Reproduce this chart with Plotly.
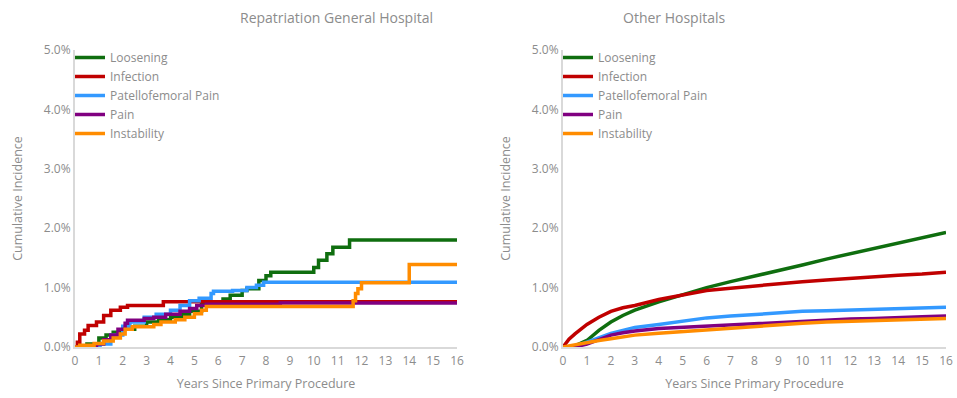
import plotly.graph_objects as go

# Series names and colours
series_names = ["Loosening", "Infection", "Patellofemoral Pain", "Pain", "Instability"]
series_colors = ["#0f6e0f", "#c00000", "#3399ff", "#800080", "#ff8c00"]

# Repatriation General Hospital: Kaplan-Meier style step curves (years, cumulative %)
rg_loosening_x = [0, 0.5, 1.0, 1.3, 1.6, 2.0, 2.5, 3.0, 3.5, 4.0, 4.5, 4.8, 5.3, 6.1, 6.2, 6.5, 7.0, 7.2, 7.7, 8.0, 8.2, 10.0, 10.2, 10.55, 10.8, 11.5, 16]
rg_loosening_y = [0, 0.05, 0.15, 0.2, 0.25, 0.3, 0.35, 0.42, 0.46, 0.5, 0.55, 0.6, 0.72, 0.75, 0.81, 0.87, 0.95, 0.98, 1.12, 1.2, 1.26, 1.34, 1.46, 1.57, 1.68, 1.8, 1.8]

rg_infection_x = [0, 0.1, 0.2, 0.4, 0.55, 0.9, 1.2, 1.5, 1.9, 2.2, 3.7, 16]
rg_infection_y = [0, 0.08, 0.22, 0.28, 0.36, 0.42, 0.53, 0.62, 0.67, 0.70, 0.76, 0.76]

rg_pfpain_x = [0, 0.9, 1.05, 1.5, 2.0, 2.3, 2.9, 3.4, 4.0, 4.4, 4.8, 5.2, 5.7, 5.8, 6.6, 7.2, 7.6, 7.9, 16]
rg_pfpain_y = [0, 0, 0.05, 0.2, 0.35, 0.42, 0.5, 0.55, 0.62, 0.7, 0.78, 0.82, 0.9, 0.94, 0.95, 1.0, 1.04, 1.09, 1.09]

rg_pain_x = [0, 0.55, 0.9, 1.2, 1.5, 1.8, 2.1, 2.2, 2.9, 3.3, 3.8, 4.4, 4.8, 5.1, 5.5, 8.6, 16]
rg_pain_y = [0, 0, 0.05, 0.12, 0.2, 0.3, 0.4, 0.45, 0.48, 0.5, 0.55, 0.6, 0.65, 0.7, 0.72, 0.74, 0.74]

rg_instability_x = [0, 0.2, 0.8, 1.2, 1.6, 1.9, 2.1, 2.4, 3.3, 3.6, 4.2, 4.6, 5.0, 5.3, 5.5, 11.65, 11.75, 11.85, 12.0, 14.0, 16]
rg_instability_y = [0, 0.03, 0.06, 0.1, 0.15, 0.22, 0.3, 0.34, 0.38, 0.42, 0.46, 0.5, 0.56, 0.62, 0.68, 0.78, 0.9, 0.98, 1.08, 1.39, 1.39]

# Other Hospitals: near-continuous curves (years, cumulative %)
oh_x = [0, 0.25, 0.5, 1, 1.5, 2, 2.5, 3, 4, 5, 6, 7, 8, 9, 10, 11, 12, 13, 14, 15, 16]
oh_loosening_y = [0, 0, 0.02, 0.11, 0.28, 0.42, 0.53, 0.62, 0.76, 0.88, 1.0, 1.1, 1.19, 1.29, 1.38, 1.48, 1.57, 1.65, 1.74, 1.83, 1.93]
oh_infection_y = [0, 0.13, 0.22, 0.38, 0.5, 0.6, 0.66, 0.70, 0.8, 0.88, 0.95, 0.99, 1.03, 1.07, 1.10, 1.13, 1.16, 1.19, 1.21, 1.23, 1.26]
oh_pfpain_y = [0, 0, 0.01, 0.08, 0.16, 0.23, 0.28, 0.33, 0.38, 0.44, 0.49, 0.52, 0.55, 0.58, 0.6, 0.61, 0.62, 0.64, 0.65, 0.66, 0.67]
oh_pain_y = [0, 0, 0, 0.05, 0.13, 0.2, 0.24, 0.27, 0.31, 0.33, 0.35, 0.37, 0.4, 0.42, 0.44, 0.46, 0.47, 0.48, 0.5, 0.51, 0.52]
oh_instability_y = [0, 0.02, 0.04, 0.07, 0.11, 0.14, 0.17, 0.2, 0.23, 0.26, 0.28, 0.31, 0.34, 0.37, 0.4, 0.42, 0.43, 0.44, 0.45, 0.46, 0.48]

panel_titles = ["Repatriation General Hospital", "Other Hospitals"]
x_title = "Years Since Primary Procedure"
y_title = "Cumulative Incidence"

rg_series = [
    (rg_loosening_x, rg_loosening_y),
    (rg_infection_x, rg_infection_y),
    (rg_pfpain_x, rg_pfpain_y),
    (rg_pain_x, rg_pain_y),
    (rg_instability_x, rg_instability_y),
]
oh_series = [oh_loosening_y, oh_infection_y, oh_pfpain_y, oh_pain_y, oh_instability_y]

FONT = "Open Sans, Segoe UI, sans-serif"
TEXT = "#8c8c8c"
AXIS = "#d9d9d9"

fig = go.Figure()

for name, color, (xs, ys) in zip(series_names, series_colors, rg_series):
    fig.add_trace(go.Scatter(
        x=xs, y=ys, mode="lines", name=name, line=dict(color=color, width=3.5, shape="hv"),
        xaxis="x", yaxis="y", legend="legend",
    ))

for name, color, ys in zip(series_names, series_colors, oh_series):
    fig.add_trace(go.Scatter(
        x=oh_x, y=ys, mode="lines", name=name, line=dict(color=color, width=3.5),
        xaxis="x2", yaxis="y2", legend="legend2",
    ))

W, H = 957, 398
left_dom = [75 / W, 457 / W]
right_dom = [563 / W, 946 / W]
y_dom = [(H - 347) / H, (H - 50) / H]

xaxis_common = dict(
    range=[0, 16], dtick=1, showgrid=False, zeroline=False, showline=True, automargin=False,
    linecolor=AXIS, linewidth=2, ticks="", ticklabelstandoff=2,
    tickfont=dict(size=12, color=TEXT, family=FONT),
    title=dict(text=x_title, font=dict(size=12.5, color=TEXT, family=FONT), standoff=11),
)
yaxis_common = dict(
    range=[0, 5], dtick=1, tickformat=".1f", ticksuffix="%", showgrid=False, zeroline=False,
    showline=True, linecolor=AXIS, linewidth=2, ticks="", automargin=False,
    tickfont=dict(size=12, color=TEXT, family=FONT),
    title=dict(text=y_title, font=dict(size=12.5, color=TEXT, family=FONT), standoff=18),
)

legend_common = dict(
    bgcolor="rgba(0,0,0,0)", font=dict(size=12, color=TEXT, family=FONT),
    xanchor="left", yanchor="top", tracegroupgap=0, itemwidth=30,
)

fig.update_layout(
    width=W, height=H, margin=dict(l=0, r=0, t=0, b=0),
    paper_bgcolor="white", plot_bgcolor="white",
    font=dict(family=FONT, color=TEXT),
    xaxis=dict(domain=left_dom, anchor="y", **xaxis_common),
    yaxis=dict(domain=y_dom, anchor="x", **yaxis_common),
    xaxis2=dict(domain=right_dom, anchor="y2", **xaxis_common),
    yaxis2=dict(domain=y_dom, anchor="x2", **yaxis_common),
    legend=dict(x=70 / W, y=1 - 43 / H, **legend_common),
    legend2=dict(x=558 / W, y=1 - 43 / H, **legend_common),
    annotations=[
        dict(text=panel_titles[0], x=238 / W, y=1 - 17 / H, xref="paper", yref="paper",
             yanchor="middle", showarrow=False, font=dict(size=14, color=TEXT, family=FONT)),
        dict(text=panel_titles[1], x=728 / W, y=1 - 17 / H, xref="paper", yref="paper",
             yanchor="middle", showarrow=False, font=dict(size=14, color=TEXT, family=FONT)),
    ],
)

fig.write_html("out.html")
